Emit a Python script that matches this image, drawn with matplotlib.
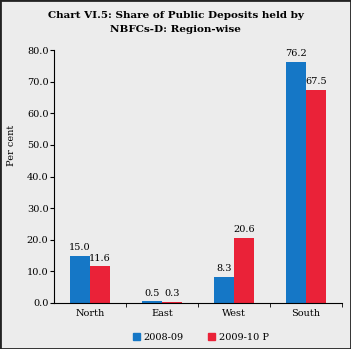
import matplotlib
matplotlib.use("Agg")
import matplotlib.pyplot as plt
from matplotlib.patches import Rectangle, Patch

regions = ["North", "East", "West", "South"]
s2008 = [15.0, 0.5, 8.3, 76.2]
s2009 = [11.6, 0.3, 20.6, 67.5]
series_names = ["2008-09", "2009-10 P"]
yticks = [0, 10, 20, 30, 40, 50, 60, 70, 80]

blue = "#1577c6"
red = "#ea2238"
bg = "#ececec"

plt.rcParams['font.family'] = ['DejaVu Serif']

fig = plt.figure(figsize=(3.51, 3.49), dpi=100, facecolor=bg)
ax = fig.add_axes([54/351, 1-303/349, (342-54)/351, (303-50)/349])
ax.set_facecolor(bg)

w = 0.28
x = list(range(len(regions)))
b1 = ax.bar([i - w/2 for i in x], s2008, w, color=blue)
b2 = ax.bar([i + w/2 for i in x], s2009, w, color=red)
for bars, vals in ((b1, s2008), (b2, s2009)):
    for r, v in zip(bars, vals):
        ax.text(r.get_x() + r.get_width()/2, v + 1.2, f"{v:.1f}",
                ha="center", va="bottom", fontsize=7)

ax.set_xlim(-0.5, 3.5)
ax.set_ylim(0, 80)
ax.set_yticks(yticks)
ax.set_yticklabels([f"{t:.1f}" for t in yticks], fontsize=7)
ax.set_xticks(x)
ax.set_xticklabels(regions, fontsize=7)
ax.tick_params(axis="x", length=0, pad=4)
ax.set_xticks([0.5, 1.5, 2.5, 3.5], minor=True)
ax.tick_params(axis="x", which="minor", length=3, direction="out")
ax.tick_params(axis="y", length=3, pad=1, direction="out")
for s in ("top", "right"):
    ax.spines[s].set_visible(False)
for s in ("left", "bottom"):
    ax.spines[s].set_linewidth(0.8)

fig.text(12/351, 1-145/349, "Per cent", rotation=90, ha="center", va="center", fontsize=7)

fig.text(0.5, 1-15/349, "Chart VI.5: Share of Public Deposits held by",
         ha="center", va="center", fontsize=7.5, fontweight="bold")
fig.text(0.5, 1-29/349, "NBFCs-D: Region-wise",
         ha="center", va="center", fontsize=7.5, fontweight="bold")

handles = [Patch(color=blue), Patch(color=red)]
fig.legend(handles, series_names, loc="center", bbox_to_anchor=(201/351, 1-337/349),
           ncol=2, frameon=False, fontsize=7, handlelength=0.7, handleheight=0.7,
           columnspacing=2.5, handletextpad=0.4)

fig.patches.append(Rectangle((0, 0), 1, 1, transform=fig.transFigure, fill=False,
                             edgecolor="#222222", linewidth=2))

fig.savefig("out.png", dpi=100, facecolor=bg)
